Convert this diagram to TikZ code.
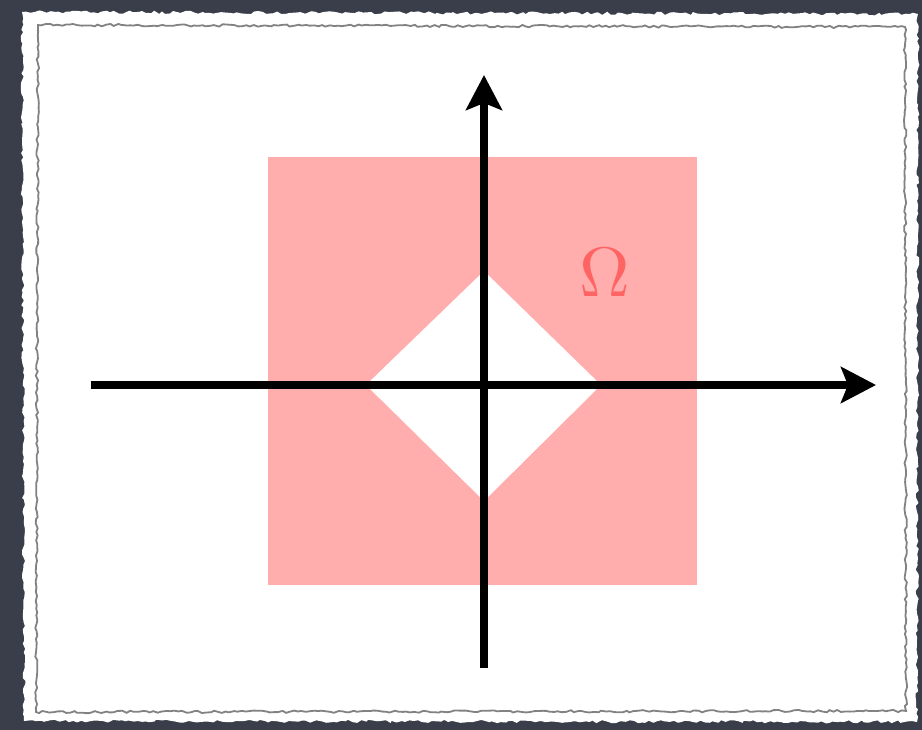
\documentclass[tikz,border=0pt]{standalone}
\usetikzlibrary{arrows.meta,decorations.pathmorphing}
\definecolor{slate}{RGB}{58,62,74}
\definecolor{pinkfill}{RGB}{255,173,173}
\definecolor{omegared}{RGB}{255,100,100}
\definecolor{edgegray}{RGB}{130,130,130}
\tikzset{
  rough/.style={decorate,decoration={random steps,segment length=4pt,amplitude=1.6pt}},
  axis/.style={line width=8pt,-{Stealth[length=35pt,width=36pt,inset=7pt]}}
}
\begin{document}
\begin{tikzpicture}[x=1pt,y=-1pt]
\pgfmathsetseed{7}
\useasboundingbox (0,0) rectangle (922,730);
\fill[slate] (0,0) rectangle (922,730);
\fill[white,rough] (22,12) -- (918,14) -- (917,722) -- (24,721) -- cycle;
\draw[edgegray,line width=1.8pt,rough,decoration={amplitude=1.2pt}] (38,25) -- (905,27) -- (906,711) -- (36,712) -- cycle;
\fill[pinkfill] (268,157) rectangle (697,585);
\fill[white] (366,385) -- (484,271) -- (601,385) -- (484,501) -- cycle;
\node[text=omegared,scale=7] (omega) at (605,273) {$\Omega$};
\coordinate (xs) at (91,385);
\coordinate (xe) at (876,385);
\coordinate (ys) at (484,668);
\coordinate (ye) at (484,75);
\draw[axis] (xs) -- (xe);
\draw[axis] (ys) -- (ye);
\end{tikzpicture}
\end{document}
